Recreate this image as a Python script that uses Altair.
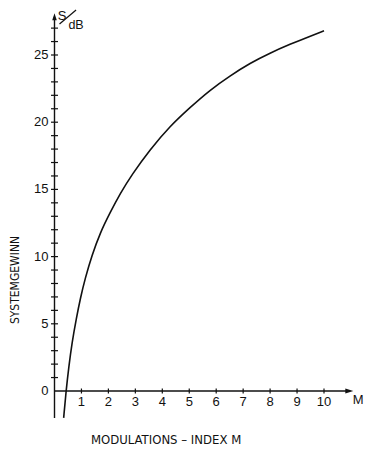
import altair as alt
import pandas as pd

# ---- data ----
m_index = [0.34, 0.43, 0.53, 0.65, 0.81, 0.96, 1.14, 1.39, 1.70, 2.07, 2.44, 2.87,
           3.54, 4.28, 5.03, 5.77, 6.51, 7.26, 8.0, 8.74, 9.48, 10.0]
gain_db = [-2.0, 0.0, 1.8, 3.6, 5.4, 6.9, 8.4, 10.1, 11.8, 13.3, 14.7, 16.1,
           17.95, 19.7, 21.1, 22.4, 23.45, 24.4, 25.15, 25.8, 26.4, 26.8]

x_ticks = [1, 2, 3, 4, 5, 6, 7, 8, 9, 10]
y_minor_ticks = list(range(1, 28))
y_labels = [0, 5, 10, 15, 20, 25]

x_title = "MODULATIONS – INDEX M"
y_title = "SYSTEMGEWINN"

FONT = "DejaVu Sans Condensed, Liberation Sans Narrow, sans-serif"
NUMFONT = "Liberation Sans, sans-serif"
INK = "#111111"

xs = alt.Scale(domain=[-1.7254, 12.0408], zero=False, nice=False)
ys = alt.Scale(domain=[-4.241, 28.497], zero=False, nice=False)


def X(f="x"):
    return alt.X(f + ":Q", scale=xs, axis=None)


def Y(f="y"):
    return alt.Y(f + ":Q", scale=ys, axis=None)


curve_df = pd.DataFrame({"x": m_index, "y": gain_db})
curve = alt.Chart(curve_df).mark_line(
    color=INK, strokeWidth=1.6, interpolate="basis"
).encode(x=X(), y=Y(), order="x:Q")

# axis lines
xaxis_df = pd.DataFrame({"x": [0.0], "x2": [10.94], "y": [0.0]})
xaxis = alt.Chart(xaxis_df).mark_rule(color=INK, strokeWidth=1.4).encode(
    x=X(), x2="x2:Q", y=Y())
yaxis_df = pd.DataFrame({"x": [0.0], "y": [-2.0], "y2": [27.84]})
yaxis = alt.Chart(yaxis_df).mark_rule(color=INK, strokeWidth=1.4).encode(
    x=X(), y=Y(), y2="y2:Q")

# arrowheads
xarrow = alt.Chart(pd.DataFrame({"x": [10.94], "y": [0.0]})).mark_point(
    shape="M-1,-0.6L1,0L-1,0.6Z", size=64, filled=True, color=INK, opacity=1
).encode(x=X(), y=Y())
yarrow = alt.Chart(pd.DataFrame({"x": [0.0], "y": [27.84]})).mark_point(
    shape="M-0.65,1L0,-1L0.65,1Z", size=49, filled=True, color=INK, opacity=1
).encode(x=X(), y=Y())

# ticks
xt_df = pd.DataFrame({"x": x_ticks, "y": [0.0] * len(x_ticks)})
xtick = alt.Chart(xt_df).mark_point(
    shape="M0,-1L0,1", size=25, filled=False, color=INK, strokeWidth=1.2, opacity=1
).encode(x=X(), y=Y())
yt_df = pd.DataFrame({"x": [0.0] * len(y_minor_ticks), "y": y_minor_ticks})
ytick = alt.Chart(yt_df).mark_point(
    shape="M-1,0L1,0", size=49, filled=False, color=INK, strokeWidth=1.2, opacity=1
).encode(x=X(), y=Y())

# tick labels
xl_df = pd.DataFrame({"x": x_ticks, "y": [0.0] * len(x_ticks),
                      "t": [str(v) for v in x_ticks]})
xlab = alt.Chart(xl_df).mark_text(
    font=NUMFONT, fontSize=13, color=INK, dy=10.5, baseline="middle", align="center"
).encode(x=X(), y=Y(), text="t:N")
yl_df = pd.DataFrame({"x": [0.0] * len(y_labels), "y": y_labels,
                      "t": [str(v) for v in y_labels]})
ylab = alt.Chart(yl_df).mark_text(
    font=NUMFONT, fontSize=13, color=INK, dx=-6, baseline="middle", align="right"
).encode(x=X(), y=Y(), text="t:N")

# axis names
m_lab = alt.Chart(pd.DataFrame({"x": [11.27], "y": [-0.67], "t": ["M"]})).mark_text(
    font=NUMFONT, fontSize=13, color=INK, baseline="middle", align="center"
).encode(x=X(), y=Y(), text="t:N")
xt = alt.Chart(pd.DataFrame({"x": [4.14], "y": [-3.65], "t": [x_title]})).mark_text(
    font=FONT, fontSize=13, color=INK, baseline="middle", align="center"
).encode(x=X(), y=Y(), text="t:N")
yt = alt.Chart(pd.DataFrame({"x": [-1.466], "y": [8.26], "t": [y_title]})).mark_text(
    font=FONT, fontSize=12, color=INK, baseline="middle", align="center", angle=270
).encode(x=X(), y=Y(), text="t:N")

# unit label S/dB
s_lab = alt.Chart(pd.DataFrame({"x": [0.28], "y": [27.90], "t": ["S"]})).mark_text(
    font=NUMFONT, fontSize=13, color=INK, baseline="middle", align="center"
).encode(x=X(), y=Y(), text="t:N")
db_lab = alt.Chart(pd.DataFrame({"x": [0.80], "y": [27.25], "t": ["dB"]})).mark_text(
    font=NUMFONT, fontSize=12.5, color=INK, baseline="middle", align="center"
).encode(x=X(), y=Y(), text="t:N")
slash = alt.Chart(pd.DataFrame({"x": [0.186], "x2": [0.80],
                                "y": [27.31], "y2": [28.35]})).mark_rule(
    color=INK, strokeWidth=1.2
).encode(x=X(), x2="x2:Q", y=Y(), y2="y2:Q")

chart = alt.layer(
    xaxis, yaxis, xarrow, yarrow, xtick, ytick, xlab, ylab,
    m_lab, xt, yt, s_lab, db_lab, slash, curve
).properties(
    width=371, height=440, padding=0,
    autosize=alt.AutoSizeParams(type="none"),
    background="white",
).configure_view(stroke=None)

chart.save("out.html", embed_options={"renderer": "svg", "actions": False})
